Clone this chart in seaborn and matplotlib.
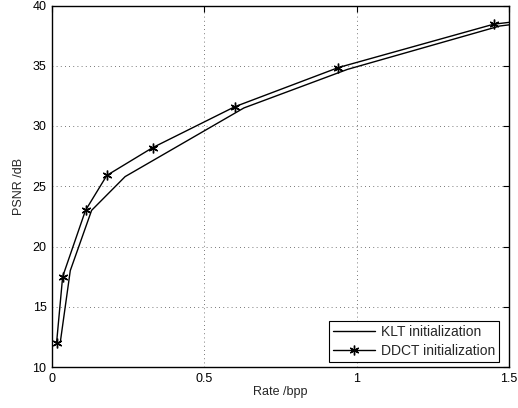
import matplotlib
matplotlib.use("Agg")
import matplotlib.pyplot as plt
import seaborn as sns
import pandas as pd

klt_rate = [0.028, 0.06, 0.13, 0.24, 0.63, 0.97, 1.47, 1.60]
klt_psnr = [12.2, 18.0, 23.0, 25.8, 31.5, 34.7, 38.3, 38.7]
ddct_rate = [0.015, 0.035, 0.11, 0.18, 0.33, 0.60, 0.94, 1.45, 1.60]
ddct_psnr = [12.0, 17.5, 23.0, 25.9, 28.2, 31.6, 34.85, 38.45, 38.9]
labels = ["KLT initialization", "DDCT initialization"]
xticks = [0, 0.5, 1, 1.5]
xticklabels = ["0", "0.5", "1", "1.5"]
yticks = [10, 15, 20, 25, 30, 35, 40]

sns.set_style("white")
plt.rcParams['font.family'] = ['Liberation Sans', 'DejaVu Sans']

fig = plt.figure(figsize=(5.18, 4.08), dpi=100)
ax = fig.add_axes([52/518, 41/408, 457/518, 361.5/408])

df_k = pd.DataFrame({"rate": klt_rate, "psnr": klt_psnr})
df_d = pd.DataFrame({"rate": ddct_rate, "psnr": ddct_psnr})
sns.lineplot(data=df_k, x="rate", y="psnr", ax=ax, color="black", lw=1.0,
             sort=False, label=labels[0])
sns.lineplot(data=df_d, x="rate", y="psnr", ax=ax, color="black", lw=1.0,
             sort=False, marker=(6, 2, 0), markersize=7, markeredgewidth=1.0,
             markeredgecolor="black", label=labels[1])

ax.set_xlim(0, 1.5)
ax.set_ylim(10, 40)
ax.set_xticks(xticks)
ax.set_xticklabels(xticklabels)
ax.set_yticks(yticks)
ax.set_xlabel("Rate /bpp", fontsize=9, labelpad=1)
ax.set_ylabel("PSNR /dB", fontsize=9, labelpad=5)
ax.tick_params(direction="in", top=True, right=True, labelsize=9,
               length=4, width=0.8, pad=4, colors="black")
ax.grid(True, linestyle=(0, (1, 4)), color="black", lw=0.6, alpha=0.7)
for s in ax.spines.values():
    s.set_color("black")
    s.set_linewidth(1.0)

leg = ax.legend(loc="lower right", bbox_to_anchor=(0.978, 0.014),
                fontsize=10, frameon=True, fancybox=False,
                edgecolor="black", framealpha=1, borderaxespad=0,
                handlelength=3.0, handletextpad=0.4, borderpad=0.3,
                labelspacing=0.35)
leg.get_frame().set_linewidth(0.8)

fig.savefig("out.png", dpi=100)
